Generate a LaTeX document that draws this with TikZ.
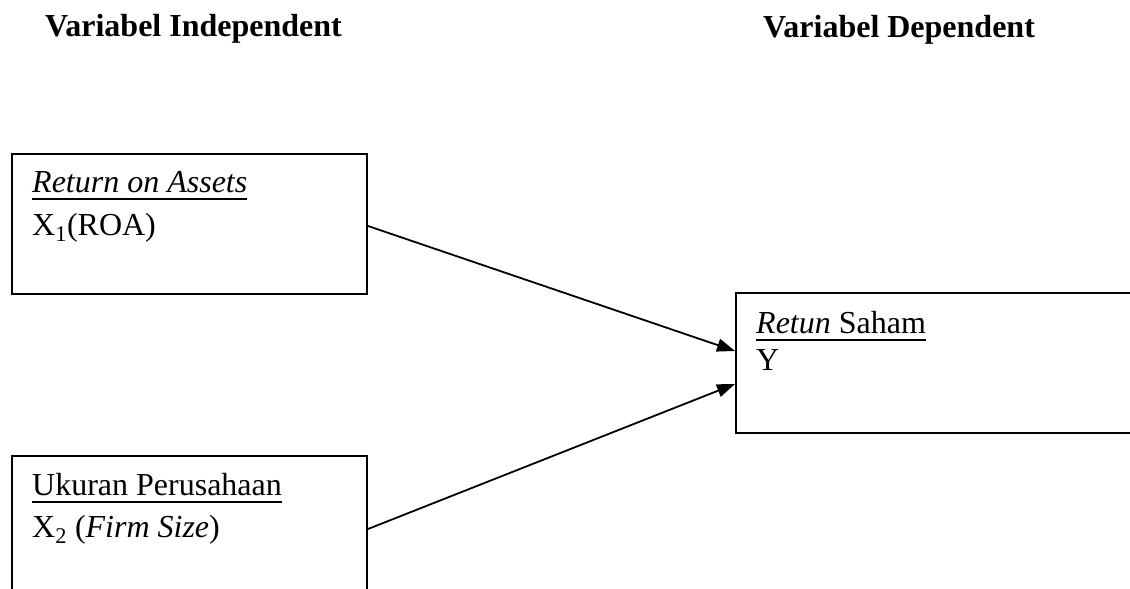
\documentclass[tikz,border=0pt]{standalone}
\usepackage{fontspec}
\setmainfont{Liberation Serif}
\usetikzlibrary{arrows.meta}
\begin{document}
\begin{tikzpicture}[x=1pt,y=-1pt,
  boxnode/.style={draw,line width=2pt,inner sep=0pt,anchor=north west},
  txt/.style={inner sep=0pt,anchor=base west,font=\fontsize{32}{38}\selectfont},
  ttl/.style={inner sep=0pt,anchor=base west,font=\fontsize{32}{38}\selectfont\bfseries},
  uln/.style={line width=1.8pt},
  arr/.style={line width=1.8pt,-{Triangle[length=18pt,width=13pt]}}]
\useasboundingbox (0,0) rectangle (1130,589);
\clip (0,0) rectangle (1130,589);
\node[ttl] (hind) at (45,36) {Variabel Independent};
\node[ttl] (hdep) at (763,37) {Variabel Dependent};
\node[boxnode,minimum width=355pt,minimum height=140pt] (roa) at (11,153) {};
\node[boxnode,minimum width=355pt,minimum height=150pt] (size) at (11,455) {};
\node[boxnode,minimum width=410pt,minimum height=140pt] (ret) at (735,292) {};
\node[txt] (roa1) at (32,192) {\textit{Return on Assets}};
\node[txt] (roa2) at (32,235) {X\textsubscript{1}(ROA)};
\node[txt] (size1) at (32,495) {Ukuran Perusahaan};
\node[txt] (size2) at (32,537) {X\textsubscript{2} (\textit{Firm Size})};
\node[txt] (ret1) at (756,333) {\textit{Retun} Saham};
\node[txt] (ret2) at (756,370) {Y};
\draw[uln] ([yshift=-7pt]roa1.base west) -- ([yshift=-7pt]roa1.base east);
\draw[uln] ([yshift=-7pt]size1.base west) -- ([yshift=-7pt]size1.base east);
\draw[uln] ([yshift=-7pt]ret1.base west) -- ([yshift=-7pt]ret1.base east);
\draw[arr] ([yshift=-2pt]roa.east) -- ([yshift=12pt]ret.west);
\draw[arr] ([yshift=2pt]size.east) -- ([yshift=-21pt]ret.west);
\end{tikzpicture}
\end{document}
